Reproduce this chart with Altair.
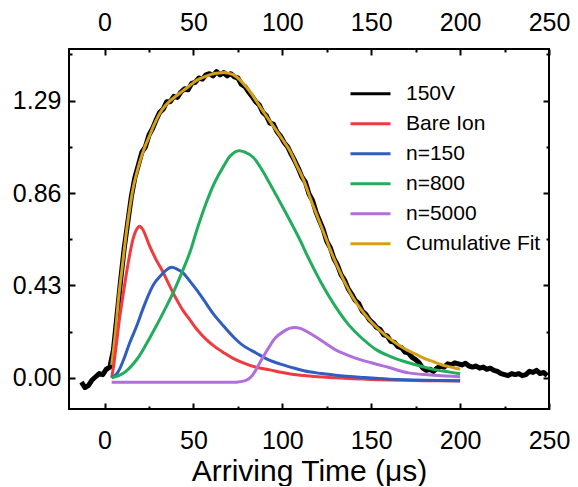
import altair as alt
import pandas as pd

series_names = ["150V", "Bare Ion", "n=150", "n=800", "n=5000", "Cumulative Fit"]
series_colors = ["#000000", "#EF3B3F", "#2F5DC0", "#22AD5C", "#B06FDB", "#D4A017"]

# measured signal (150V)
data_t = [-13, -11, -9, -7, -5, -3, -1, 1, 3, 5, 7, 9, 11, 13, 15, 17, 19, 21, 23, 25,
          27, 29, 31, 33, 35, 37, 39, 41, 43, 45, 47, 49, 51, 53, 55, 57, 59, 61, 63, 65,
          67, 69, 71, 73, 75, 77, 79, 81, 83, 85, 87, 89, 91, 93, 95, 97, 99, 101, 103, 105,
          107, 109, 111, 113, 115, 117, 119, 121, 123, 125, 127, 129, 131, 133, 135, 137, 139, 141, 143, 145,
          147, 149, 151, 153, 155, 157, 159, 161, 163, 165, 167, 169, 171, 173, 175, 177, 179, 181, 183, 185,
          187, 189, 191, 193, 195, 197, 199, 201, 203, 205, 207, 209, 211, 213, 215, 217, 219, 221, 223, 225,
          227, 229, 231, 233, 235, 237, 239, 241, 243, 245, 247, 249]
data_v = [-0.02, -0.045, -0.035, -0.01, 0.005, 0.02, 0.015, 0.04, 0.05, 0.13, 0.29, 0.45, 0.6, 0.72, 0.84, 0.93, 0.99, 1.05, 1.075, 1.13,
          1.16, 1.2, 1.235, 1.25, 1.285, 1.285, 1.31, 1.305, 1.33, 1.345, 1.34, 1.37, 1.375, 1.395, 1.39, 1.41, 1.415, 1.405, 1.425, 1.41,
          1.42, 1.405, 1.415, 1.4, 1.395, 1.365, 1.355, 1.33, 1.31, 1.285, 1.27, 1.235, 1.22, 1.185, 1.18, 1.145, 1.125, 1.095, 1.075, 1.04,
          1.01, 0.975, 0.935, 0.91, 0.855, 0.825, 0.77, 0.73, 0.69, 0.635, 0.605, 0.555, 0.525, 0.48, 0.455, 0.415, 0.39, 0.36, 0.345, 0.31,
          0.295, 0.27, 0.255, 0.235, 0.225, 0.2, 0.195, 0.17, 0.165, 0.145, 0.14, 0.12, 0.115, 0.095, 0.085, 0.07, 0.045, 0.035, 0.04, 0.03,
          0.045, 0.055, 0.05, 0.065, 0.06, 0.07, 0.065, 0.06, 0.068, 0.055, 0.05, 0.055, 0.045, 0.05, 0.04, 0.045, 0.035, 0.03, 0.02, 0.015,
          0.01, 0.02, 0.015, 0.02, 0.01, 0.015, 0.03, 0.025, 0.035, 0.02, 0.025, 0.01]

ion_t = [4, 5, 6.7, 8.5, 10.7, 13, 16, 18, 19.7, 21.5, 25.5, 29, 33, 36.5, 40.5, 44, 48, 52, 57, 62,
         67, 72, 78, 85, 93, 100, 108, 118, 130, 145, 160, 180, 200]
ion_v = [0.0, 0.05, 0.16, 0.28, 0.40, 0.52, 0.645, 0.69, 0.705, 0.69, 0.61, 0.55, 0.49, 0.43, 0.365, 0.315, 0.27, 0.225, 0.18, 0.145,
         0.117, 0.092, 0.07, 0.05, 0.037, 0.025, 0.014, 0.006, 0.0, -0.006, -0.01, -0.013, -0.015]

n150_t = [4, 7, 10.7, 14, 18, 22, 25.5, 28, 31, 34.5, 37.6, 41, 44, 48, 51.7, 56, 61, 66, 72.5, 78,
          85, 92, 100.5, 108, 115, 122, 130, 145, 160, 180, 200]
n150_v = [0.0, 0.02, 0.084, 0.16, 0.24, 0.33, 0.40, 0.44, 0.47, 0.50, 0.514, 0.505, 0.49, 0.45, 0.41, 0.36, 0.30, 0.25, 0.19, 0.15,
          0.117, 0.085, 0.06, 0.042, 0.028, 0.02, 0.012, 0.002, -0.006, -0.011, -0.013]

n800_t = [4, 8, 12, 18, 23, 29, 34, 38.8, 43, 48, 52, 57, 62, 67, 71, 75, 79, 83.7, 88, 92.7,
          98, 104, 110, 115, 122, 130, 137, 144, 153, 162, 171, 180, 186.5, 193, 200]
n800_v = [0.0, 0.01, 0.03, 0.084, 0.15, 0.24, 0.32, 0.40, 0.48, 0.584, 0.69, 0.81, 0.91, 0.985, 1.035, 1.056, 1.05, 1.025, 0.975, 0.908,
          0.828, 0.736, 0.64, 0.552, 0.44, 0.33, 0.25, 0.19, 0.13, 0.095, 0.07, 0.05, 0.037, 0.028, 0.019]

n5000_t = [4, 20, 40, 60, 75, 80, 83, 86, 89, 92.7, 96, 100.5, 104, 107, 110, 115, 123, 130, 140, 150,
           160, 171, 185, 200]
n5000_v = [-0.02, -0.02, -0.02, -0.02, -0.019, -0.01, 0.01, 0.05, 0.095, 0.145, 0.185, 0.215, 0.23, 0.234, 0.23, 0.21, 0.168, 0.13, 0.095, 0.07,
           0.048, 0.023, 0.012, 0.005]

fit_t = [4, 6, 8, 10, 12, 14, 16, 18, 20, 22, 25, 28, 31, 34, 37, 40, 44, 48, 52, 56,
         60, 64, 68, 72, 75, 78, 82, 86, 90, 95, 100, 104, 108, 112, 116, 120, 124, 128, 132, 136,
         140, 145, 150, 155, 160, 165, 170, 175, 180, 185, 190, 195, 200]
fit_v = [0.06, 0.2, 0.38, 0.52, 0.66, 0.78, 0.88, 0.95, 1.01, 1.06, 1.12, 1.18, 1.23, 1.265, 1.29, 1.31, 1.335, 1.36, 1.385, 1.40,
         1.412, 1.418, 1.42, 1.412, 1.395, 1.37, 1.33, 1.28, 1.23, 1.17, 1.11, 1.06, 0.99, 0.92, 0.83, 0.745, 0.66, 0.575, 0.50, 0.43,
         0.37, 0.31, 0.26, 0.22, 0.185, 0.155, 0.13, 0.11, 0.09, 0.075, 0.06, 0.05, 0.04]

x_ticks = [0, 25, 50, 75, 100, 125, 150, 175, 200, 225, 250]
y_ticks = [0, 0.215, 0.43, 0.645, 0.86, 1.075, 1.29, 1.505]

def frame(name, t, v, order):
    return pd.DataFrame({"t": t, "v": v, "series": name, "ord": order})

df_data = frame("150V", data_t, data_v, 0)
df_fit = pd.concat([
    frame("Cumulative Fit", fit_t, fit_v, 1),
    frame("Bare Ion", ion_t, ion_v, 2),
    frame("n=150", n150_t, n150_v, 3),
    frame("n=800", n800_t, n800_v, 4),
    frame("n=5000", n5000_t, n5000_v, 5),
])

W, H = 480, 360
FONT = "Liberation Sans"
LFS = 25
TICK = 6
x_minor_test = "datum.value % 50 !== 0"
y_minor_test = "indexof([0, 0.43, 0.86, 1.29], datum.value) < 0"

def x_axis(orient, labels, pad, title=None):
    return alt.Axis(
        orient=orient, values=x_ticks, domain=False, grid=False,
        offset=-TICK, tickSize=TICK, tickWidth=2, tickColor="black",
        tickDash={"condition": {"test": x_minor_test, "value": [0, 3, 3, 20]}, "value": [20, 0]},
        labels=labels, labelFont=FONT, labelFontSize=LFS, labelColor="black",
        labelPadding=pad, labelFlush=False,
        labelExpr="datum.value % 50 === 0 ? datum.label : ''",
        title=title,
        titleFont=FONT, titleFontSize=30, titleFontWeight="normal", titleColor="black", titlePadding=3,
    )

def y_axis(orient, labels):
    return alt.Axis(
        orient=orient, values=y_ticks, domain=False, grid=False, title=None,
        offset=-TICK, tickSize=TICK, tickWidth=2, tickColor="black",
        tickDash={"condition": {"test": y_minor_test, "value": [0, 3, 3, 20]}, "value": [20, 0]},
        labels=labels, labelFont=FONT, labelFontSize=LFS, labelColor="black", labelPadding=8,
        labelFlush=False,
        labelExpr="indexof([0, 0.43, 0.86, 1.29], datum.value) >= 0 ? format(datum.value, '.2f') : ''",
    )

xscale = alt.Scale(domain=[-20, 250], nice=False, zero=False)
yscale = alt.Scale(domain=[-0.145, 1.53], nice=False, zero=False)
color = alt.Color(
    "series:N",
    scale=alt.Scale(domain=series_names, range=series_colors),
    legend=alt.Legend(
        title=None, orient="none", legendX=280, legendY=30,
        symbolType="stroke", symbolSize=1600, symbolStrokeWidth=3,
        labelFont=FONT, labelFontSize=21, labelColor="black", labelOffset=14,
        clipHeight=29.5, rowPadding=0, padding=0,
    ),
)

data_layer = alt.Chart(df_data).mark_line(strokeWidth=5, strokeJoin="round").encode(
    x=alt.X("t:Q", scale=xscale, axis=x_axis("bottom", True, 19, "Arriving Time (μs)")),
    y=alt.Y("v:Q", scale=yscale, axis=y_axis("left", True)),
    color=color,
)

fit_layer = alt.Chart(df_fit).mark_line(strokeWidth=3, interpolate="catmull-rom").encode(
    x=alt.X("t:Q", scale=xscale, axis=x_axis("top", True, 14)),
    y=alt.Y("v:Q", scale=yscale, axis=y_axis("right", False)),
    color=color,
    detail="ord:N",
)

# plot frame (box around the data rectangle)
box = alt.Chart(pd.DataFrame({"k": [0]})).mark_rect(
    fill=None, stroke="black", strokeWidth=2
).encode(x=alt.value(0), x2=alt.value(W), y=alt.value(0), y2=alt.value(H))

chart = (
    alt.layer(data_layer, fit_layer, box)
    .resolve_axis(x="independent", y="independent")
    .properties(width=W, height=H, padding={"left": 4, "top": 2, "right": 0, "bottom": 0})
    .configure(background="white")
    .configure_view(stroke=None)
)

chart.save("out.html", embed_options={"renderer": "svg", "actions": False})
